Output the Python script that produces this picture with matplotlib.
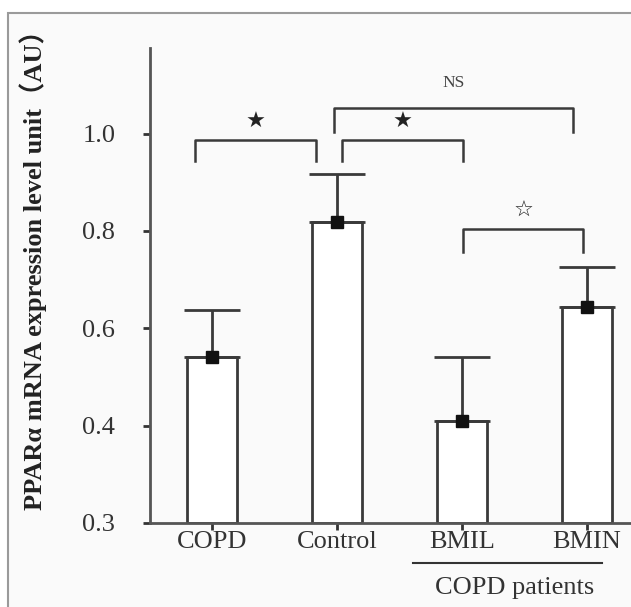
import matplotlib
matplotlib.use('Agg')
import matplotlib.pyplot as plt
from matplotlib.patches import Rectangle

# data
groups = ['COPD', 'Control', 'BMIL', 'BMIN']
means = [0.542, 0.818, 0.410, 0.644]
upper = [0.637, 0.918, 0.541, 0.725]
# y axis is broken: bottom tick sits one step below 0.4 but is labelled 0.3
ytick_pos = [0.2, 0.4, 0.6, 0.8, 1.0]
ytick_labels = ['0.3', '0.4', '0.6', '0.8', '1.0']

# significance brackets: (left idx, right idx, left offset, right offset, height, drop, mark)
comparisons = [
    (0, 1, -0.14, -0.17, 0.988, 0.045, 'fstar'),
    (1, 2, 0.04, 0.01, 0.988, 0.045, 'fstar'),
    (1, 3, -0.03, -0.11, 1.052, 0.048, 'NS'),
    (2, 3, 0.01, -0.03, 0.805, 0.048, 'ostar'),
]

serif = ['Liberation Serif', 'Noto Sans CJK SC', 'DejaVu Sans']
plt.rcParams['font.family'] = serif

fig = plt.figure(figsize=(6.31, 6.07), dpi=100)
frame = Rectangle((0.0127, -0.01), 1.0, 0.9886, transform=fig.transFigure,
                  facecolor='#fafafa', edgecolor='#9a9a9a', linewidth=1.5, zorder=-5)
fig.add_artist(frame)
ax = fig.add_axes([0.2377, 0.1384, 0.7623, 0.7825])
ax.set_zorder(2)
ax.patch.set_alpha(0)

x = list(range(len(groups)))
err = [u - m for u, m in zip(upper, means)]
ax.bar(x, [m - 0.2 for m in means], bottom=0.2, width=0.4, facecolor='white',
       edgecolor='#3a3a3a', linewidth=2, zorder=2)
ax.errorbar(x, means, yerr=[[0] * len(x), err], fmt='none', ecolor='#3a3a3a',
            elinewidth=2, capsize=20, capthick=2, zorder=3)
ax.plot(x, means, 's', color='#111111', markersize=9, zorder=4)

for i, j, oi, oj, h, d, mark in comparisons:
    x1, x2 = i + oi, j + oj
    ax.plot([x1, x1, x2, x2], [h - d, h, h, h - d], color='#3a3a3a', lw=1.8, zorder=3)
    xm = (x1 + x2) / 2
    if mark == 'NS':
        ax.text(xm, h + 0.035, 'NS', ha='center', va='bottom', fontsize=12.5,
                color='#444444', fontstretch='condensed')
    else:
        sym = '★' if mark == 'fstar' else '☆'
        ax.text(xm, h + 0.015, sym, ha='center', va='bottom', fontsize=16,
                color='#222222', family='DejaVu Sans')

ax.set_xlim(-0.5, 3.352)
ax.set_ylim(0.2, 1.176)
ax.set_yticks(ytick_pos)
ax.set_yticklabels(ytick_labels)
ax.set_xticks(x)
ax.set_xticklabels(groups)
ax.tick_params(axis='both', direction='out', length=5, width=2, color='#333333',
               labelsize=19, labelcolor='#333333')
ax.tick_params(axis='y', pad=20)
ax.tick_params(axis='x', pad=1)
for side in ['top', 'right']:
    ax.spines[side].set_visible(False)
for side in ['left', 'bottom']:
    ax.spines[side].set_linewidth(2)
    ax.spines[side].set_color('#555555')

# group label under the two BMI bars
ax.plot([1.61, 3.12], [0.118, 0.118], color='#333333', lw=1.5, clip_on=False)
ax.text(2.42, 0.09, 'COPD patients', ha='center', va='top', fontsize=19,
        color='#333333')

fig.text(0.053, 0.565, 'PPARα mRNA expression level unit（AU）', rotation=90,
         ha='center', va='center', fontsize=19, fontweight='bold', color='#222222')

fig.savefig('out.png', dpi=100)
